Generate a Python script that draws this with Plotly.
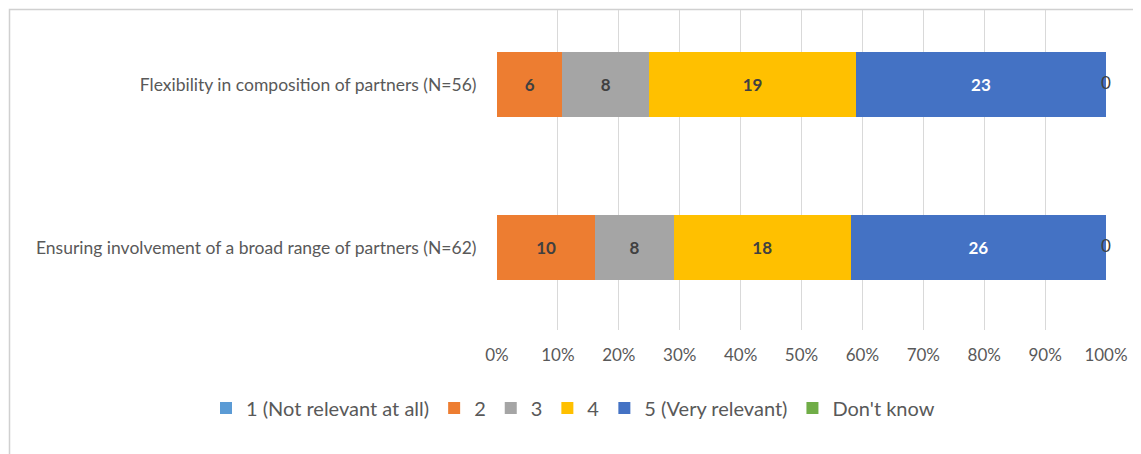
import plotly.graph_objects as go

categories = ["Ensuring involvement of a broad range of partners (N=62)",
              "Flexibility in composition of partners (N=56)"]
series_names = ["1 (Not relevant at all)", "2", "3", "4", "5 (Very relevant)", "Don't know"]
s1 = [0, 0]
s2 = [10, 6]
s3 = [8, 8]
s4 = [18, 19]
s5 = [26, 23]
s_dk = [0, 0]
tick_vals = [0, 10, 20, 30, 40, 50, 60, 70, 80, 90, 100]
tick_text = ["0%", "10%", "20%", "30%", "40%", "50%", "60%", "70%", "80%", "90%", "100%"]

colors = ["#5B9BD5", "#ED7D31", "#A5A5A5", "#FFC000", "#4472C4", "#70AD47"]
label_colors = ["#404040", "#404040", "#404040", "#404040", "#FFFFFF", "#404040"]
series = [s1, s2, s3, s4, s5, s_dk]

FONT = "Lato, 'Open Sans', sans-serif"
fig = go.Figure()
for i, (name, vals) in enumerate(zip(series_names, series)):
    show_text = i in (1, 2, 3, 4)
    fig.add_trace(go.Bar(
        y=categories, x=vals, name=name, orientation="h",
        marker=dict(color=colors[i], line=dict(width=0)),
        text=[str(v) for v in vals] if show_text else None,
        textposition="inside", insidetextanchor="middle",
        textangle=0,
        textfont=dict(color=label_colors[i], size=17, family=FONT),
        texttemplate="<b>%{text}</b>" if show_text else None,
    ))

# "Don't know" labels at the end of each bar (cumulative share)
totals = [sum(s[j] for s in series) for j in range(len(categories))]
dk_pos = [100.0 * sum(s[j] for s in series) / totals[j] for j in range(len(categories))]
fig.add_trace(go.Scatter(
    y=categories, x=dk_pos, mode="text", text=[str(v) for v in s_dk],
    textposition="middle center", showlegend=False, hoverinfo="skip",
    textfont=dict(color="#404040", size=17, family=FONT),
    cliponaxis=False,
))

OFF = 8  # default page body margin
W, H = 1141 - OFF, 454 - OFF
L, T = 497 - OFF, 10 - OFF
pw, ph = 609, 320
R, B = W - L - pw, H - T - ph

def px_x(p):
    return (p - OFF - L) / pw

def px_y(p):
    return (T + ph - (p - OFF)) / ph

fig.update_layout(
    width=W, height=H,
    margin=dict(l=L, r=R, t=T, b=B),
    barmode="stack", barnorm="percent", bargap=0.6,
    plot_bgcolor="white", paper_bgcolor="white",
    font=dict(family=FONT, color="#595959"),
    xaxis=dict(range=[0, 100], tickvals=tick_vals, ticktext=tick_text,
               showgrid=True, gridcolor="#D9D9D9", gridwidth=1,
               zeroline=False, showline=False,
               ticks="outside", ticklen=10, tickcolor="rgba(0,0,0,0)",
               tickfont=dict(size=17, color="#595959", family=FONT)),
    yaxis=dict(categoryorder="array", categoryarray=categories,
               range=[-0.506, 1.457],
               showgrid=False, zeroline=False, showline=False,
               ticks="outside", ticklen=16, tickcolor="rgba(0,0,0,0)",
               tickfont=dict(size=17.5, color="#595959", family=FONT)),
    legend=dict(orientation="h", x=px_x(206), xanchor="left",
                y=px_y(408), yanchor="middle",
                font=dict(size=20, color="#595959", family=FONT),
                traceorder="normal", itemwidth=30),
    shapes=[dict(type="rect", xref="paper", yref="paper",
                 x0=px_x(9.5), x1=px_x(1160), y0=px_y(480), y1=px_y(9.5),
                 line=dict(color="#D0D0D0", width=1.5), fillcolor="rgba(0,0,0,0)",
                 layer="below")],
)

fig.write_html("out.html")
